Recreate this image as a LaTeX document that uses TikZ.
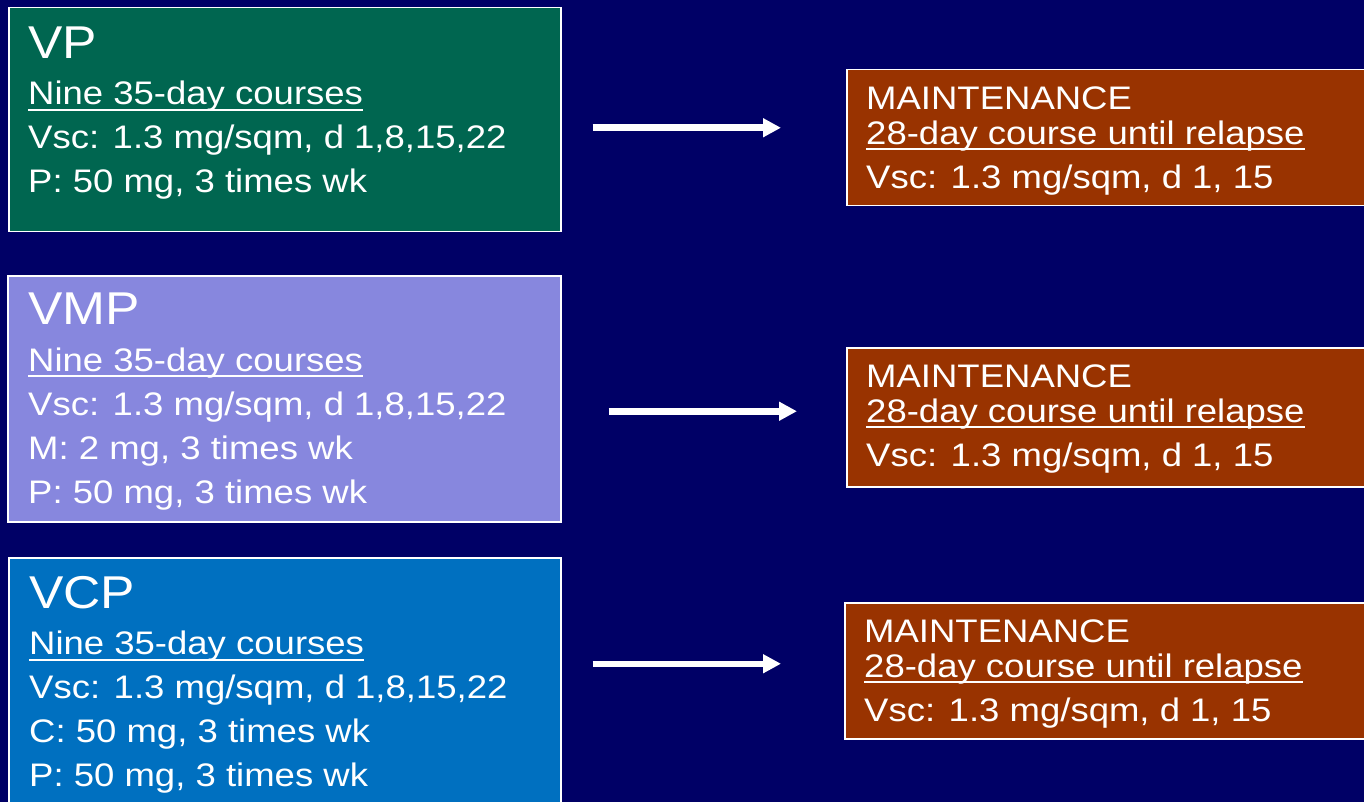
\documentclass[tikz,border=0pt]{standalone}
\usepackage{fontspec}
\setmainfont{Liberation Sans}[FakeStretch=1.12]
\usepackage{tikz}
\usetikzlibrary{calc, positioning, arrows.meta}
\definecolor{navy}{HTML}{000066}
\definecolor{vpgreen}{HTML}{006650}
\definecolor{vmplilac}{HTML}{8787DE}
\definecolor{vcpblue}{HTML}{0070C0}
\definecolor{mbrown}{HTML}{993300}
\tikzstyle{box}=[draw=white, line width=1.5pt, anchor=north west, inner sep=0pt]
\tikzstyle{txt}=[anchor=north west, inner sep=0pt, align=left, text=white, font=\fontsize{32.6}{44}\selectfont]
\tikzstyle{arr}=[white, line width=6.5pt, -{Triangle[length=18pt, width=18pt]}]
\newcommand{\ttl}[1]{{\fontsize{46}{44}\selectfont #1}}
\newcommand{\undr}[1]{\setbox0\hbox{#1}\rlap{\rule[-6pt]{\wd0}{2pt}}\box0}

\begin{document}
\begin{tikzpicture}[x=1pt, y=-1pt]
\clip (0,0) rectangle (1364,802);
\fill[navy] (0,0) rectangle (1364,802);

% regimens
\node[box, fill=vpgreen, minimum width=552pt, minimum height=224pt] (vp) at (8,7) {};
\node[box, fill=vmplilac, minimum width=553pt, minimum height=246pt] (vmp) at (7,275) {};
\node[box, fill=vcpblue, minimum width=552pt, minimum height=280pt] (vcp) at (8,557) {};

\node[txt] (vptxt) at ($(vp.north west)+(20,19.5)$) {\ttl{VP}\\[2.5pt] \undr{Nine 35-day courses}\\ Vsc: 1.3 mg/sqm, d 1,8,15,22\\ P: 50 mg, 3 times wk};
\node[txt] (vmptxt) at ($(vmp.north west)+(21,18)$) {\ttl{VMP}\\[2.5pt] \undr{Nine 35-day courses}\\ Vsc: 1.3 mg/sqm, d 1,8,15,22\\ M: 2 mg, 3 times wk\\ P: 50 mg, 3 times wk};
\node[txt] (vcptxt) at ($(vcp.north west)+(21,19)$) {\ttl{VCP}\\[2.5pt] \undr{Nine 35-day courses}\\ Vsc: 1.3 mg/sqm, d 1,8,15,22\\ C: 50 mg, 3 times wk\\ P: 50 mg, 3 times wk};

% maintenance
\foreach \j/\x/\y/\h in {1/846/69/136, 2/846/347/139, 3/844/602/136}
{
\node[box, fill=mbrown, minimum width=560pt, minimum height=\h pt] (m\j) at (\x,\y) {};
\node[txt] (mtxt\j) at ($(m\j.north west)+(20,18)$) {MAINTENANCE\\[-9.5pt] \undr{28-day course until relapse}\\ Vsc: 1.3 mg/sqm, d 1, 15};
}

\coordinate (vpout) at ($(vp.east)+(31,8)$);
\coordinate (m1in) at ($(m1.west)+(-65,-10)$);
\coordinate (vmpout) at ($(vmp.east)+(47,12.5)$);
\coordinate (m2in) at ($(m2.west)+(-49,-6)$);
\coordinate (vcpout) at ($(vcp.east)+(31,-34)$);
\coordinate (m3in) at ($(m3.west)+(-63,-7)$);
\draw[arr] (vpout) -- (m1in);
\draw[arr] (vmpout) -- (m2in);
\draw[arr] (vcpout) -- (m3in);
\end{tikzpicture}
\end{document}
